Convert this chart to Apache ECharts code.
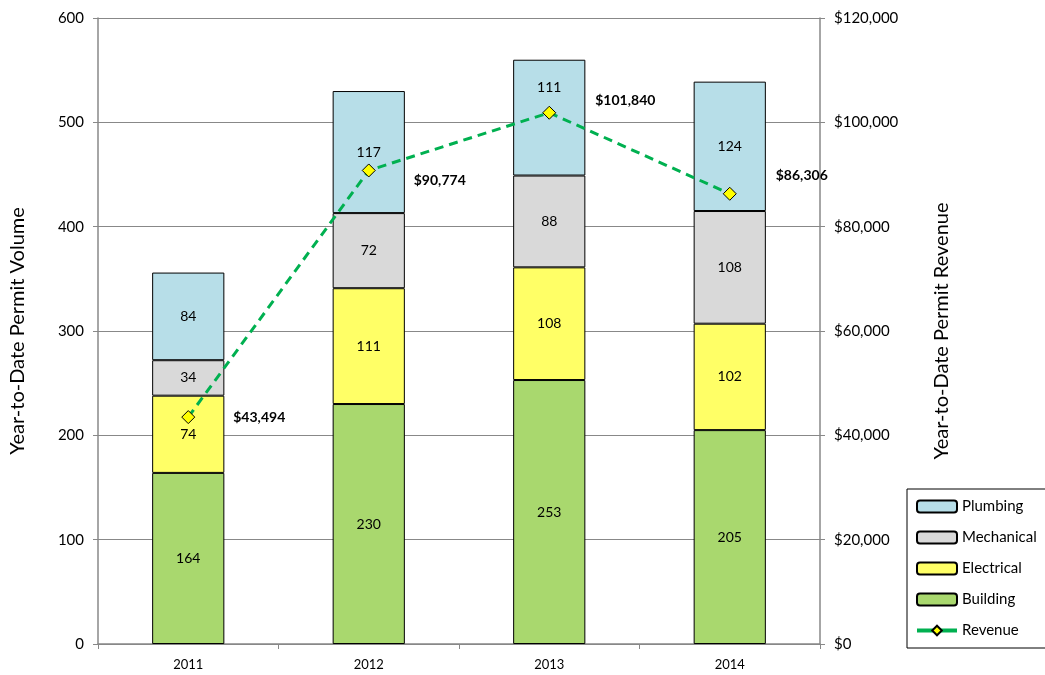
<!DOCTYPE html>
<html>
<head>
<meta charset="utf-8">
<script src="https://cdn.jsdelivr.net/npm/echarts@6/dist/echarts.min.js"></script>
<style>
  html, body { margin: 0; padding: 0; background: #fff; }
  #chart { width: 1045px; height: 675px; }
</style>
</head>
<body>
<div id="chart"></div>
<script>
// datos
const years = ['2011', '2012', '2013', '2014'];
const building = [164, 230, 253, 205];
const electrical = [74, 111, 108, 102];
const mechanical = [34, 72, 88, 108];
const plumbing = [84, 117, 111, 124];
const revenue = [43494, 90774, 101840, 86306];
const revenueLabelOffsets = [[45, 0], [45, 10], [46, -12], [46, -18]];

(function () {
    const el = document.getElementById('chart');
    const chart = echarts.init(el);
    const font = 'Lato, "Open Sans", sans-serif';

    function money(v) {
        return '$' + Math.round(v).toLocaleString('en-US');
    }

    function barSeries(name, data, color, labelShift) {
        return {
            name: name,
            type: 'bar',
            stack: 'vol',
            barWidth: '40%',
            data: data.map((v, i) => {
                const item = { value: v };
                if (labelShift && labelShift[i]) item.label = { offset: [0, labelShift[i]] };
                return item;
            }),
            itemStyle: { color: color, borderColor: '#000', borderWidth: 1 },
            label: { show: true, position: 'inside', color: '#000', fontSize: 14, fontFamily: font },
            z: 2
        };
    }

    const option = {
        animation: false,
        textStyle: { fontFamily: font },
        grid: { left: 98, right: 225, top: 18, bottom: 31 },
        legend: {
            orient: 'vertical',
            left: 907,
            top: 489,
            padding: [10, 30, 10, 8],
            borderColor: '#000',
            borderWidth: 1,
            itemWidth: 40,
            itemHeight: 12,
            itemGap: 16,
            textStyle: { fontSize: 15, color: '#000', fontFamily: font },
            data: ['Plumbing', 'Mechanical', 'Electrical', 'Building',
                { name: 'Revenue', lineStyle: { type: 'solid', width: 4 } }]
        },
        xAxis: {
            type: 'category',
            data: years,
            axisLine: { lineStyle: { color: '#888', width: 1.5 } },
            axisTick: { show: true, alignWithLabel: false, lineStyle: { color: '#888' } },
            axisLabel: { color: '#000', fontSize: 13, margin: 14 }
        },
        yAxis: [
            {
                type: 'value',
                min: 0,
                max: 600,
                interval: 100,
                name: 'Year-to-Date Permit Volume',
                nameLocation: 'middle',
                nameGap: 70,
                nameTextStyle: { fontSize: 20, color: '#000' },
                axisLine: { show: true, lineStyle: { color: '#888', width: 1.5 } },
                axisTick: { show: true, lineStyle: { color: '#888' } },
                axisLabel: { color: '#000', fontSize: 15, margin: 14 },
                splitLine: { lineStyle: { color: '#888' } }
            },
            {
                type: 'value',
                min: 0,
                max: 120000,
                interval: 20000,
                name: 'Year-to-Date Permit Revenue',
                nameLocation: 'middle',
                nameGap: 112,
                nameRotate: 90,
                nameTextStyle: { fontSize: 20, color: '#000' },
                axisLine: { show: true, lineStyle: { color: '#888', width: 1.5 } },
                axisTick: { show: true, lineStyle: { color: '#888' } },
                axisLabel: { color: '#000', fontSize: 15, margin: 14, formatter: money },
                splitLine: { show: false }
            }
        ],
        series: [
            barSeries('Building', building, '#A9D86E'),
            barSeries('Electrical', electrical, '#FFFF66'),
            barSeries('Mechanical', mechanical, '#D9D9D9'),
            barSeries('Plumbing', plumbing, '#B7DEE8', [0, 0, -30, 0]),
            {
                name: 'Revenue',
                type: 'line',
                yAxisIndex: 1,
                z: 5,
                symbol: 'diamond',
                symbolSize: 13,
                itemStyle: { color: '#FFFF00', borderColor: '#000', borderWidth: 1 },
                lineStyle: { color: '#00B050', width: 3, type: [9, 6] },
                data: revenue.map((v, i) => ({
                    value: v,
                    label: {
                        show: true,
                        position: 'inside',
                        offset: revenueLabelOffsets[i],
                        align: 'left',
                        formatter: p => money(p.value),
                        fontWeight: 'bold',
                        fontSize: 14,
                        color: '#000'
                    }
                }))
            }
        ]
    };

    chart.setOption(option);
})();
</script>
</body>
</html>
